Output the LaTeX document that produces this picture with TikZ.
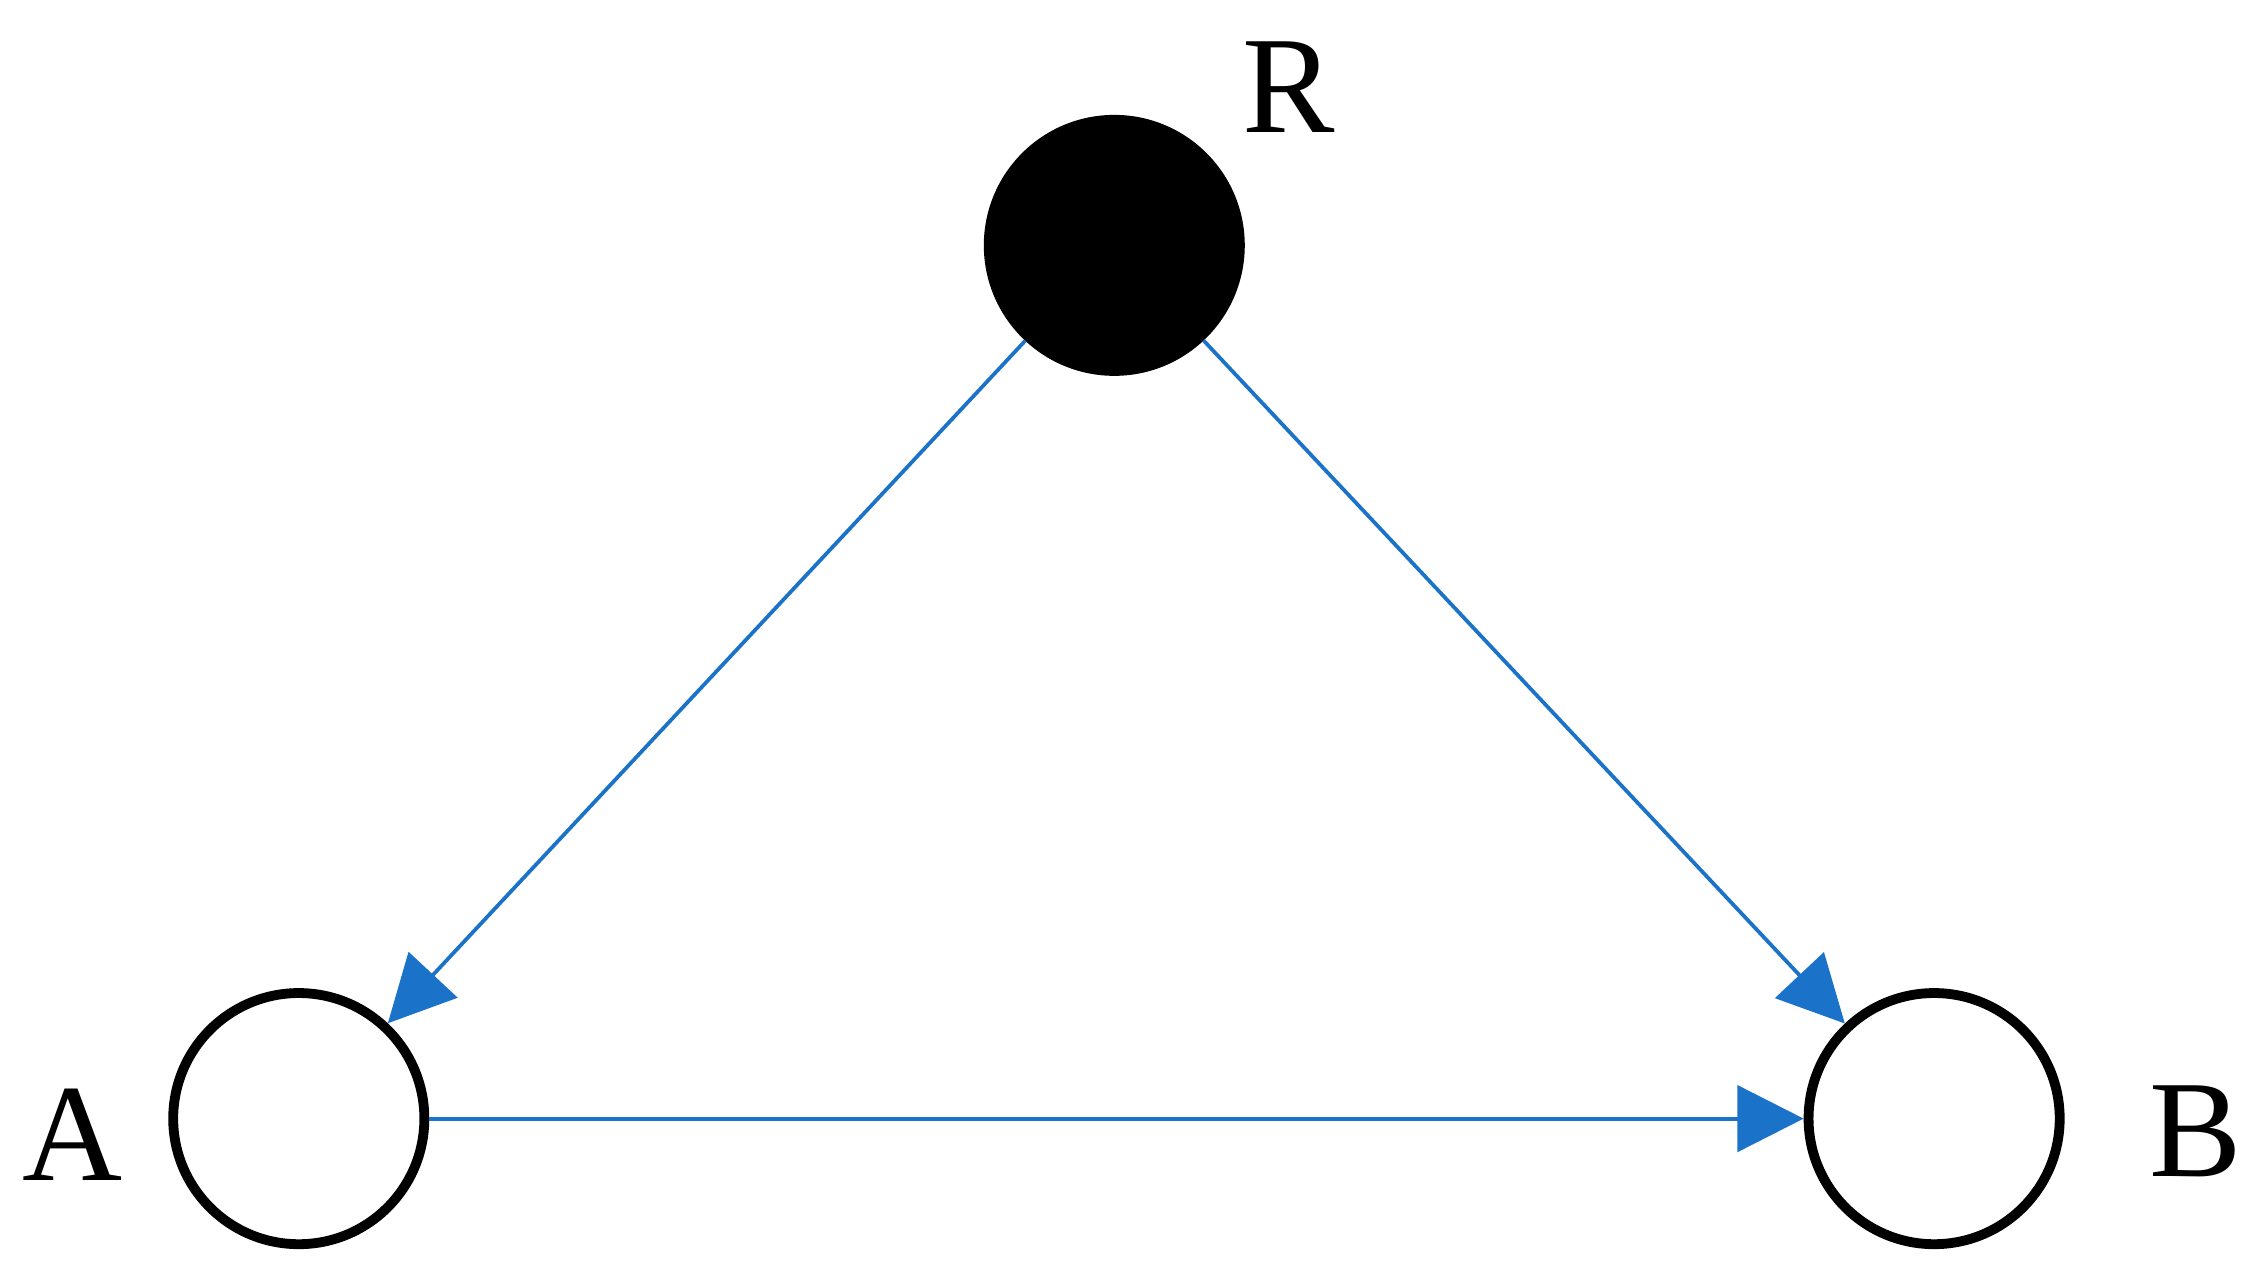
\documentclass[tikz,border=0pt]{standalone}
\usepackage{fontspec}
\setmainfont{Liberation Serif}
\usetikzlibrary{arrows.meta}
\definecolor{edgeblue}{HTML}{1A73C8}
\begin{document}
\begin{tikzpicture}[x=0.5pt,y=-0.5pt,
  vertex/.style={circle,draw=black,line width=3.4pt,minimum size=87pt,inner sep=0pt},
  filled/.style={vertex,fill=black},
  hollow/.style={vertex,fill=white},
  lbl/.style={font=\fontsize{48}{52}\selectfont,inner sep=0pt,anchor=base},
  edge/.style={draw=edgeblue,line width=1.3pt,-{Triangle[length=23pt,width=23pt]}}]
\useasboundingbox (0,0) rectangle (1563,877);
\node[filled] (R) at (772,170) {};
\node[hollow] (A) at (207,775) {};
\node[hollow] (B) at (1340,775) {};
\node[lbl] (lR) at (893,92) {R};
\node[lbl] (lA) at (50,818) {A};
\node[lbl] (lB) at (1521,815) {B};
\draw[edge] (R) -- (A);
\draw[edge] (R) -- (B);
\draw[edge] (A) -- (B);
\end{tikzpicture}
\end{document}
